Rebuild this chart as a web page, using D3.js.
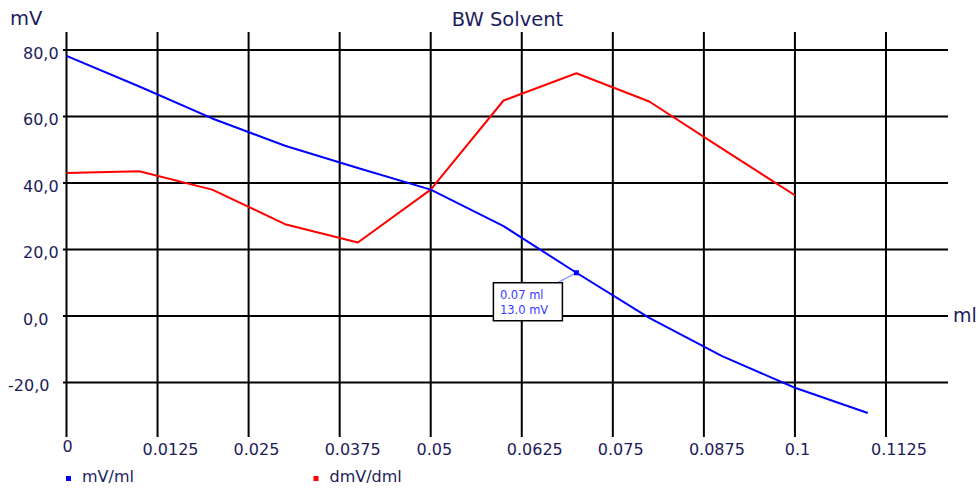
<!DOCTYPE html>
<html>
<head>
<meta charset="utf-8">
<script src="https://cdn.jsdelivr.net/npm/d3@7"></script>
<style>
  html, body { margin: 0; padding: 0; background: #fff; }
  svg { display: block; }
  text { font-family: "DejaVu Sans", Verdana, sans-serif; }
</style>
</head>
<body>
<svg id="chart" width="979" height="491"></svg>
<script>
// ---- data ----
const volumes = [0, 0.01, 0.02, 0.03, 0.04, 0.05, 0.06, 0.07, 0.08, 0.09, 0.10, 0.11];
const mVml    = [78.2, 69.0, 59.4, 51.2, 44.5, 38.0, 27.0, 13.0, -0.6, -12.1, -21.6, -29.2];
const dmVdml  = [43.0, 43.5, 38.0, 27.6, 22.1, 38.0, 64.8, 73.0, 64.5, 50.3, 36.3];
const xTicks  = [0, 0.0125, 0.025, 0.0375, 0.05, 0.0625, 0.075, 0.0875, 0.1, 0.1125];
const xTickLabels = ["0", "0.0125", "0.025", "0.0375", "0.05", "0.0625", "0.075", "0.0875", "0.1", "0.1125"];
const yTicks  = [-20, 0, 20, 40, 60, 80];
const yTickLabels = ["-20,0", "0,0", "20,0", "40,0", "60,0", "80,0"];
const seriesNames = ["mV/ml", "dmV/dml"];
const seriesColors = ["#0000ff", "#ff0000"];
const title = "BW Solvent";
const tipIndex = 7;

// ---- layout ----
const svg = d3.select("#chart");
const textColor = "#1c1c5c";
const x = d3.scaleLinear().domain([0, 0.121]).range([66.5, 947.9]);
const y = d3.scaleLinear().domain([-36.4, 85.4]).range([437, 32]);

// grid
const grid = svg.append("g");
grid.selectAll("line.v").data(xTicks).enter().append("line")
  .attr("x1", d => x(d)).attr("x2", d => x(d))
  .attr("y1", 32).attr("y2", 437)
  .attr("stroke", "#000").attr("stroke-width", 2);
grid.selectAll("line.h").data(yTicks).enter().append("line")
  .attr("x1", 63).attr("x2", 948)
  .attr("y1", d => y(d)).attr("y2", d => y(d))
  .attr("stroke", "#000").attr("stroke-width", 2);

// x tick labels
const xl = svg.append("g").selectAll("text").data(xTicks).enter().append("text")
  .attr("font-size", 16).attr("fill", textColor)
  .attr("y", (d, i) => i === 0 ? 452 : 455)
  .text((d, i) => xTickLabels[i]);
xl.each(function(d) {
  const w = this.getComputedTextLength();
  d3.select(this).attr("x", x(d) - Math.min(w * 0.4, 15));
});

// y tick labels
svg.append("g").selectAll("text").data(yTicks).enter().append("text")
  .attr("font-size", 16).attr("fill", textColor)
  .attr("x", d => d < 0 ? 8 : 23)
  .attr("y", d => y(d) + 9)
  .text((d, i) => yTickLabels[i]);

// axis titles and chart title
svg.append("text").attr("x", 10).attr("y", 25).attr("font-size", 19.5).attr("fill", textColor).text("mV");
svg.append("text").attr("x", 953).attr("y", 322).attr("font-size", 19).attr("fill", textColor).text("ml");
svg.append("text").attr("x", 507.5).attr("y", 26).attr("text-anchor", "middle")
  .attr("font-size", 19.5).attr("fill", textColor).text(title);

// lines
const line = d3.line().x(d => x(d[0])).y(d => y(d[1]));
const s1 = volumes.map((v, i) => [v, mVml[i]]);
const s2 = dmVdml.map((v, i) => [volumes[i], v]);
svg.append("path").datum(s2).attr("d", line).attr("fill", "none")
  .attr("stroke", seriesColors[1]).attr("stroke-width", 2).attr("stroke-linejoin", "round");
svg.append("path").datum(s1).attr("d", line).attr("fill", "none")
  .attr("stroke", seriesColors[0]).attr("stroke-width", 2).attr("stroke-linejoin", "round");

// tooltip
const px = x(volumes[tipIndex]), py = y(mVml[tipIndex]);
const bx = px - 83, by = py + 10, bw = 69, bh = 38;
svg.append("line").attr("x1", px).attr("y1", py).attr("x2", px - 19).attr("y2", by)
  .attr("stroke", "#6f8cff").attr("stroke-width", 1.2);
svg.append("rect").attr("x", px - 2.5).attr("y", py - 2.5).attr("width", 5).attr("height", 5)
  .attr("fill", "#0000ff");
svg.append("rect").attr("x", bx).attr("y", by).attr("width", bw).attr("height", bh)
  .attr("fill", "#fff").attr("stroke", "#000").attr("stroke-width", 1.5);
svg.append("text").attr("x", bx + 6.5).attr("y", by + 16).attr("font-size", 11.5).attr("fill", "#3a3aff")
  .text(volumes[tipIndex].toFixed(2) + " ml");
svg.append("text").attr("x", bx + 6.5).attr("y", by + 31).attr("font-size", 11.5).attr("fill", "#3a3aff")
  .text(mVml[tipIndex].toFixed(1) + " mV");

// legend
const legendX = [68.5, 316];
const lg = svg.append("g").selectAll("g").data(seriesNames).enter().append("g");
lg.append("rect").attr("x", (d, i) => legendX[i] - 2.5).attr("y", 476).attr("width", 5).attr("height", 5)
  .attr("fill", (d, i) => seriesColors[i]);
lg.append("text").attr("x", (d, i) => legendX[i] + 13.5).attr("y", 482).attr("font-size", 16)
  .attr("fill", textColor).text(d => d);
</script>
</body>
</html>
